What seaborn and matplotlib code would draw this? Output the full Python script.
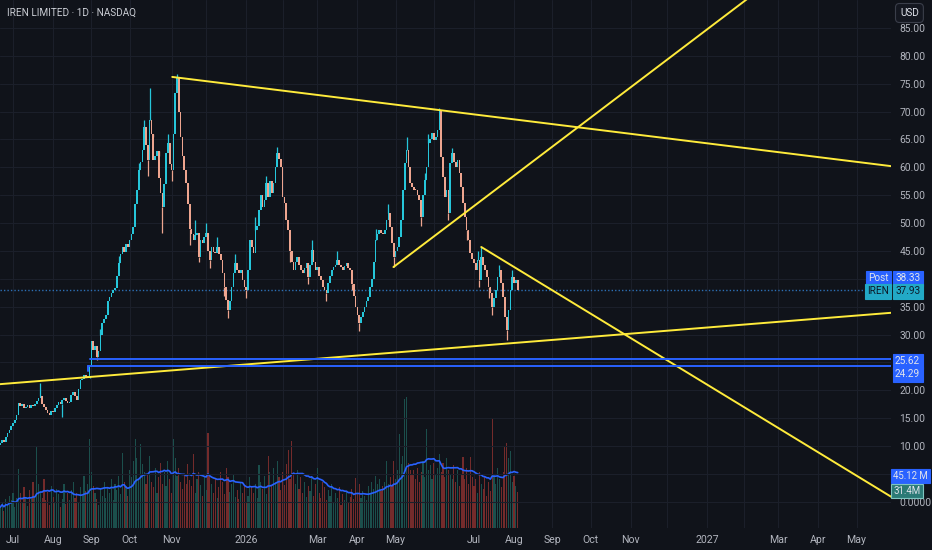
import numpy as np
import pandas as pd
import matplotlib
matplotlib.use("Agg")
import matplotlib.pyplot as plt
import seaborn as sns

# daily closes (bar index -7 .. 277)
first_open = 10.2
closes = [
    10.6, 11.0, 10.8, 11.6, 12.4, 12.9, 13.6, 14.2, 14.7, 15.6,
    17.7, 17.2, 17.5, 16.8, 17.0, 17.3, 16.9, 17.4, 17.1, 17.6,
    18.0, 18.6, 19.0, 17.6, 17.0, 16.5, 16.0, 15.6, 16.3, 16.1,
    16.8, 17.4, 17.9, 17.5, 18.3, 18.6, 18.0, 17.7, 17.9, 19.2,
    19.7, 19.0, 18.3, 20.2, 21.9, 22.0, 22.8, 22.4, 22.6, 24.1,
    28.8, 27.2, 28.0, 26.0, 27.0, 30.0, 32.0, 32.8, 33.5, 36.0,
    36.7, 37.4, 38.0, 38.4, 40.5, 42.8, 44.5, 45.7, 44.8, 46.2,
    45.7, 47.0, 48.0, 49.3, 53.5, 55.9, 59.5, 61.0, 63.1, 67.2,
    64.0, 61.3, 68.5, 66.0, 61.3, 62.0, 63.0, 58.0, 55.4, 52.9,
    57.0, 62.5, 64.3, 60.5, 59.5, 66.0, 73.3, 76.0, 70.0, 65.4,
    62.0, 59.5, 57.2, 53.5, 49.0, 48.0, 47.0, 47.8, 48.2, 43.9,
    47.0, 46.4, 47.5, 48.2, 45.0, 43.4, 45.7, 44.8, 44.6, 45.7,
    44.5, 43.4, 41.0, 38.5, 36.2, 34.4, 36.0, 38.5, 41.0, 42.8,
    41.6, 41.0, 41.6, 39.8, 38.5, 38.0, 41.6, 47.0, 45.7, 44.6,
    48.7, 49.5, 52.3, 55.0, 52.9, 54.1, 57.2, 54.7, 57.5, 55.4,
    57.2, 60.0, 62.5, 61.5, 60.0, 54.7, 53.6, 50.5, 48.7, 45.0,
    43.0, 41.6, 43.0, 43.9, 42.5, 41.5, 41.0, 42.0, 42.8, 40.3,
    42.5, 45.2, 43.0, 41.6, 42.1, 40.5, 39.8, 38.5, 38.0, 37.5,
    39.2, 40.5, 41.6, 42.1, 42.5, 43.4, 42.5, 42.1, 41.6, 42.3,
    42.8, 42.0, 41.6, 39.0, 37.0, 34.9, 33.5, 32.0, 33.2, 34.0,
    34.9, 36.0, 36.7, 38.5, 40.0, 43.0, 47.0, 48.0, 48.7, 48.2,
    48.0, 48.7, 50.5, 51.8, 49.3, 46.4, 43.9, 45.0, 45.7, 47.5,
    50.5, 55.9, 60.8, 63.1, 60.0, 57.2, 56.5, 56.0, 55.9, 55.0,
    54.1, 51.1, 55.0, 57.7, 60.0, 64.3, 65.0, 66.1, 64.9, 65.5,
    66.7, 70.3, 61.8, 58.2, 54.7, 55.9, 51.8, 60.8, 62.5, 61.0,
    60.0, 61.3, 59.0, 56.5, 53.6, 51.1, 48.7, 47.0, 44.6, 43.5,
    42.8, 41.6, 43.4, 39.8, 43.9, 42.5, 41.6, 40.3, 38.5, 37.5,
    34.9, 36.5, 38.0, 40.3, 41.6, 39.2, 36.7, 33.2, 30.8, 34.4,
    38.0, 40.3, 39.2, 39.8, 37.93,
]

# daily volume in millions
volumes = [
    18, 22, 15, 25, 20, 28, 24, 30, 18, 26,
    51, 30, 22, 35, 27, 19, 33, 25, 40, 28,
    71, 38, 30, 26, 42, 24, 31, 20, 36, 27,
    22, 34, 29, 18, 25, 38, 21, 30, 24, 33,
    40, 26, 30, 22, 35, 28, 45, 32, 38, 77,
    48, 36, 30, 25, 20, 34, 28, 40, 26, 35,
    30, 42, 24, 38, 33, 45, 29, 65, 40, 36,
    28, 50, 44, 58, 77, 60, 42, 72, 55, 48,
    38, 46, 62, 40, 35, 52, 30, 44, 56, 38,
    48, 36, 58, 42, 30, 77, 60, 45, 52, 40,
    34, 46, 38, 55, 41, 36, 64, 30, 42, 48,
    37, 28, 44, 33, 82, 45, 38, 30, 42, 26,
    35, 48, 40, 29, 52, 44, 31, 38, 46, 27,
    33, 25, 40, 30, 36, 22, 28, 44, 35, 30,
    38, 26, 54, 40, 34, 45, 29, 62, 48, 36,
    52, 40, 58, 44, 33, 48, 37, 55, 67, 42,
    75, 46, 38, 50, 34, 44, 30, 40, 27, 36,
    32, 45, 28, 38, 52, 30, 26, 40, 35, 24,
    33, 28, 38, 22, 30, 26, 35, 20, 29, 24,
    31, 22, 27, 34, 25, 43, 30, 38, 26, 32,
    28, 24, 36, 30, 40, 34, 45, 38, 42, 32,
    36, 40, 58, 38, 44, 36, 58, 42, 50, 81,
    55, 62, 111, 113, 56, 50, 46, 50, 42, 52,
    40, 48, 58, 44, 85, 50, 54, 42, 56, 46,
    52, 64, 48, 56, 44, 60, 50, 46, 42, 54,
    40, 50, 36, 46, 61, 42, 52, 38, 61, 44,
    36, 42, 30, 48, 38, 34, 44, 28, 40, 32,
    94, 46, 38, 52, 42, 35, 48, 71, 73, 60,
    66, 40, 45, 36, 31.4,
]

# visible wicks (bar index, price)
wick_high = [(15, 21.3), (75, 74.2), (90, 76.8), (72, 68.5), (145, 63.6),
             (216, 65.4), (234, 70.6), (257, 45.7), (228, 66.0), (139, 58.5),
             (69, 60.8), (77, 65.5), (80, 62.0), (85, 66.0), (100, 50.5),
             (106, 50.0), (112, 47.5), (122, 44.5), (133, 51.0), (164, 47.0),
             (178, 45.0), (199, 49.0), (206, 53.5), (226, 59.0), (241, 63.5),
             (255, 45.0), (267, 42.5), (274, 41.5), (58, 44.0), (48, 31.0)]
wick_low = [(42, 22.2), (82, 48.2), (97, 46.0), (118, 33.0), (190, 30.6),
            (209, 42.1), (271, 29.0), (263, 33.5), (102, 43.0), (74, 58.5),
            (87, 57.5), (108, 42.0), (116, 37.0), (128, 36.5), (152, 43.0),
            (162, 39.0), (172, 36.0), (186, 38.0), (224, 49.5), (239, 50.5),
            (249, 47.0), (256, 38.5), (261, 36.5), (46, 25.5), (27, 15.2)]

# month grid (trading-day index) and the labels TradingView shows
month_pos = [0, 22, 43, 64, 87, 106, 128, 148, 167, 189, 210, 231, 253, 275,
             296, 317, 339, 359, 381, 401, 420, 442, 463]
month_lab = ['Jul', 'Aug', 'Sep', 'Oct', 'Nov', '', '2026', '', 'Mar', 'Apr', 'May',
             '', 'Jul', 'Aug', 'Sep', 'Oct', 'Nov', '', '2027', '', 'Mar', 'Apr', 'May']
price_ticks = list(range(0, 90, 5))

# drawings: trendlines (bar index, price) and horizontal zones
trend_lines = [
    [(87.4, 76.2), (482, 60.2)],
    [(208.8, 42.1), (420, 94.4)],
    [(257, 45.7), (482, 0.9)],
    [(-7.1, 21.1), (482, 33.9)],
]
zones = [(42.3, 25.62), (41.2, 24.29)]

BG = '#10131a'
GRID = '#1b1f2a'
TXT = '#b2b5be'
UP, DOWN = '#26c6da', '#eea58f'
VUP, VDOWN = '#1b4f4c', '#742b2b'

sns.set_theme(style="dark")
plt.rcParams['font.family'] = ['Roboto', 'DejaVu Sans']

df = pd.DataFrame({'close': closes, 'vol': volumes})
df['idx'] = np.arange(len(df)) - 7
df['open'] = [first_open] + closes[:-1]
df['up'] = df['close'] >= df['open']
df['vol_ma'] = df['vol'].rolling(20, min_periods=1).mean()

fig = plt.figure(figsize=(9.32, 5.5), dpi=100, facecolor=BG)
ax_v = fig.add_axes([0, 22 / 550, 891 / 932, 528 / 550])
ax = ax_v.twinx()
ax_v.set_facecolor(BG)
ax.patch.set_visible(False)

# volume pane
ax_v.bar(df['idx'], df['vol'], width=0.62,
         color=np.where(df['up'], VUP, VDOWN), linewidth=0)
sns.lineplot(data=df, x='idx', y='vol_ma', ax=ax_v, color='#2962ff', lw=1.2)
ax_v.set_ylim(0, 528 / 1.16)
ax_v.set_yticks([])
ax_v.set_ylabel('')
ax_v.set_xlabel('')

# grid
for p in month_pos:
    ax_v.axvline(p, color=GRID, lw=0.8, zorder=0)
for t in price_ticks:
    ax.axhline(t, color=GRID, lw=0.8, zorder=0)

# candles
lo = df[['open', 'close']].min(axis=1)
hi = df[['open', 'close']].max(axis=1)
body = np.maximum(hi - lo, 0.18)
ccol = np.where(df['up'], UP, DOWN)
for i, h in wick_high:
    r = df.index[df['idx'] == i][0]
    ax.vlines(i, hi[r], h, color=ccol[r], lw=0.9, zorder=3)
for i, l in wick_low:
    r = df.index[df['idx'] == i][0]
    ax.vlines(i, l, lo[r], color=ccol[r], lw=0.9, zorder=3)
ax.bar(df['idx'], body, bottom=lo, width=0.9, color=ccol, linewidth=0, zorder=3)

# drawings
for (x0, y0), (x1, y1) in trend_lines:
    ax.plot([x0, x1], [y0, y1], color='#ffeb3b', lw=1.4, zorder=4)
for x0, lvl in zones:
    ax.plot([x0, 490], [lvl, lvl], color='#2962ff', lw=1.4, zorder=4)
ax.plot([41.2, 41.2], [23.4, 24.29], color='#2962ff', lw=1.4, zorder=4)
ax.axhline(closes[-1], color='#2d6fb5', lw=1.0, ls=(0, (1, 1.5)), zorder=2)

ax.set_ylim(-4.7, 90.0)
ax.set_xlim(-7.14, 481.9)
ax_v.set_xlim(-7.14, 481.9)
ax.set_yticks(price_ticks)
ax.set_yticklabels(['0.0000' if t == 0 else ('' if t in (5, 25, 40) else f'{t:.2f}')
                    for t in price_ticks])
ax.yaxis.tick_right()
ax.tick_params(axis='y', length=0, pad=6, labelsize=7.4, labelcolor=TXT)
ax_v.set_xticks(month_pos)
ax_v.set_xticklabels(month_lab)
ax_v.tick_params(axis='x', length=0, pad=5, labelsize=7.6, labelcolor=TXT)
ax_v.grid(False)
ax.grid(False)
for a in (ax, ax_v):
    for s in a.spines.values():
        s.set_visible(False)


def box(x, y, text, face, color='#e0e3eb', edge=None, size=7.2, style='square,pad=0.25'):
    fig.text(x / 932, 1 - y / 550, text, ha='left', va='center', fontsize=size, color=color,
             bbox=dict(boxstyle=style, fc=face, ec=edge or face, lw=0.8))


fig.text(7 / 932, 1 - 13 / 550, 'IREN LIMITED · 1D · NASDAQ', fontsize=7.2,
         color='#c9ccd3', va='center')
box(900, 13, 'USD', '#141720', edge='#3a3e4a', style='round,pad=0.45,rounding_size=0.4')
box(868, 278, 'Post', '#2962ff')
box(895, 278, '38.33', '#2962ff')
box(867, 291, 'IREN', '#22a9c6', color='#0c1a28')
box(895, 291, '37.93', '#22a9c6', color='#0c1a28')
box(895, 361, '25.62', '#2962ff')
box(895, 374, '24.29', '#2962ff')
box(893, 476, '45.12 M', '#2962ff', size=6.9)
box(893, 491, '31.4M', '#2b7a76', edge='#7fc4c0', size=6.9)

fig.savefig('out.png', dpi=100, facecolor=BG)
